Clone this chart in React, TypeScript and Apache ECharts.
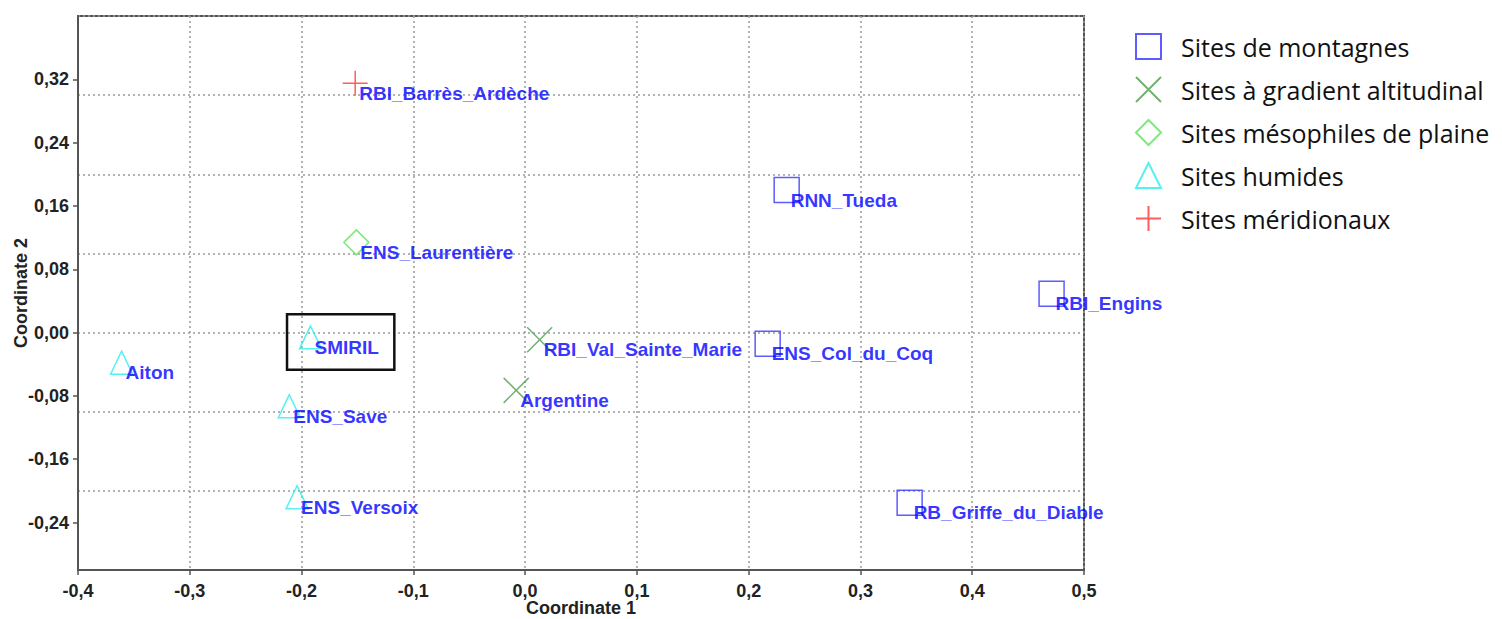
import React, { useEffect, useRef } from 'react';
import * as echarts from 'echarts';

// ---- Data ----
const groupNames = [
  'Sites de montagnes',
  'Sites à gradient altitudinal',
  'Sites mésophiles de plaine',
  'Sites humides',
  'Sites méridionaux',
];

const montagnesNames = ['RNN_Tueda', 'RBI_Engins', 'ENS_Col_du_Coq', 'RB_Griffe_du_Diable'];
const montagnesX = [0.234, 0.471, 0.217, 0.344];
const montagnesY = [0.180, 0.049, -0.014, -0.215];

const gradientNames = ['RBI_Val_Sainte_Marie', 'Argentine'];
const gradientX = [0.013, -0.008];
const gradientY = [-0.009, -0.073];

const mesophilesNames = ['ENS_Laurentière'];
const mesophilesX = [-0.151];
const mesophilesY = [0.114];

const humidesNames = ['SMIRIL', 'Aiton', 'ENS_Save', 'ENS_Versoix'];
const humidesX = [-0.192, -0.361, -0.211, -0.204];
const humidesY = [-0.006, -0.038, -0.093, -0.208];

const meridionauxNames = ['RBI_Barrès_Ardèche'];
const meridionauxX = [-0.152];
const meridionauxY = [0.315];

// x-axis ticks every 0.1, y labels every 0.08, y grid every 0.1
const xTicks = [-0.4, -0.3, -0.2, -0.1, 0, 0.1, 0.2, 0.3, 0.4, 0.5];
const yLabelValues = [-0.24, -0.16, -0.08, 0, 0.08, 0.16, 0.24, 0.32];

// highlighted box around SMIRIL (data coordinates)
const highlightFrom = [-0.213, 0.023];
const highlightTo = [-0.117, -0.047];

const X_PATH = 'path://M0,0L10,10M10,0L0,10';
const PLUS_PATH = 'path://M5,0L5,10M0,5L10,5';

const labelFont = 'Liberation Sans, Arial, sans-serif';

function toData(names: string[], xs: number[], ys: number[]) {
  return names.map((n, i) => ({ name: n, value: [xs[i], ys[i]] }));
}

function makeSeries(
  name: string,
  data: any[],
  symbol: string,
  size: number | number[],
  color: string,
  extra: any = {}
) {
  return {
    type: 'scatter',
    name,
    data,
    symbol,
    symbolSize: size,
    itemStyle: { color: 'rgba(0,0,0,0)', borderColor: color, borderWidth: 1.5 },
    label: {
      show: true,
      formatter: '{b}',
      position: ['50%', '50%'],
      align: 'left',
      verticalAlign: 'middle',
      offset: [4, 10],
      color: '#0000ff',
      textBorderWidth: 0,
      textBorderColor: 'transparent',
      fontFamily: labelFont,
      fontWeight: 'bold',
      fontSize: 19,
    },
    emphasis: { disabled: true },
    ...extra,
  };
}

const gridLine = { color: '#9a9a9a', type: [2, 3], width: 1.5 };

export default function App() {
  const ref = useRef<HTMLDivElement>(null);

  useEffect(() => {
    if (!ref.current) return;
    const chart = echarts.init(ref.current, null, { renderer: 'svg' });

    const axisText = {
      fontFamily: labelFont,
      fontWeight: 'bold',
      fontSize: 18,
      color: '#222',
    };

    chart.setOption({
      animation: false,
      backgroundColor: '#fff',
      grid: {
        left: 78,
        right: 418,
        top: 16,
        bottom: 49,
        show: true,
        borderColor: '#555',
        borderWidth: 2,
        backgroundColor: 'transparent',
        containLabel: false,
        outerBoundsMode: 'none',
      },
      legend: {
        orient: 'vertical',
        left: 1130,
        top: 28,
        itemWidth: 25,
        itemHeight: 25,
        itemGap: 16,
        selectedMode: false,
        data: groupNames,
        textStyle: {
          fontFamily: 'Open Sans, Noto Sans, sans-serif',
          fontSize: 25,
          lineHeight: 27,
          color: '#111',
          padding: [0, 0, 0, 15],
        },
      },
      xAxis: {
        type: 'value',
        min: xTicks[0],
        max: xTicks[xTicks.length - 1],
        interval: 0.1,
        name: 'Coordinate 1',
        nameLocation: 'middle',
        nameGap: 29,
        nameMoveOverlap: false,
        nameTextStyle: { ...axisText },
        axisLine: { show: true, onZero: false, lineStyle: { color: '#555', width: 2 } },
        axisTick: { show: true, length: 5, lineStyle: { color: '#555', width: 1.5 } },
        axisLabel: {
          ...axisText,
          margin: 12,
          showMinLabel: true,
          showMaxLabel: true,
          formatter: (v: number) => v.toFixed(1).replace('.', ','),
        },
        splitLine: { show: true, lineStyle: gridLine },
      },
      yAxis: [
        {
          type: 'value',
          min: -0.3,
          max: 0.4,
          interval: 0.1,
          position: 'left',
          axisLine: { show: false },
          axisTick: { show: false },
          axisLabel: { show: false },
          splitLine: { show: true, lineStyle: gridLine },
        },
        {
          type: 'value',
          min: -0.3,
          max: 0.4,
          position: 'left',
          name: 'Coordinate 2',
          nameLocation: 'middle',
          nameGap: 48,
          nameRotate: 90,
          nameMoveOverlap: false,
          nameTextStyle: { ...axisText },
          axisLine: { show: true, onZero: false, lineStyle: { color: '#555', width: 2 } },
          axisTick: {
            show: true,
            length: 5,
            customValues: yLabelValues,
            lineStyle: { color: '#555', width: 1.5 },
          },
          axisLabel: {
            ...axisText,
            margin: 9,
            customValues: yLabelValues,
            formatter: (v: number) => v.toFixed(2).replace('.', ','),
          },
          splitLine: { show: false },
        },
      ],
      series: [
        makeSeries(groupNames[0], toData(montagnesNames, montagnesX, montagnesY), 'rect', 25, '#3535ff'),
        makeSeries(groupNames[1], toData(gradientNames, gradientX, gradientY), X_PATH, 25, '#4e9e4e'),
        makeSeries(groupNames[2], toData(mesophilesNames, mesophilesX, mesophilesY), 'diamond', 25, '#5ee25e'),
        makeSeries(groupNames[3], toData(humidesNames, humidesX, humidesY), 'triangle', [22, 23], '#2aeeee', {
          markArea: {
            silent: true,
            itemStyle: { color: 'rgba(0,0,0,0)', borderColor: '#111', borderWidth: 2.5 },
            label: { show: false },
            data: [[{ coord: highlightFrom }, { coord: highlightTo }]],
          },
        }),
        makeSeries(groupNames[4], toData(meridionauxNames, meridionauxX, meridionauxY), PLUS_PATH, 25, '#ff3535'),
      ],
    });

    return () => {
      chart.dispose();
    };
  }, []);

  return (
    <div
      ref={ref}
      style={{ position: 'fixed', left: 0, top: 0, width: 1502, height: 619, background: '#fff' }}
    />
  );
}
